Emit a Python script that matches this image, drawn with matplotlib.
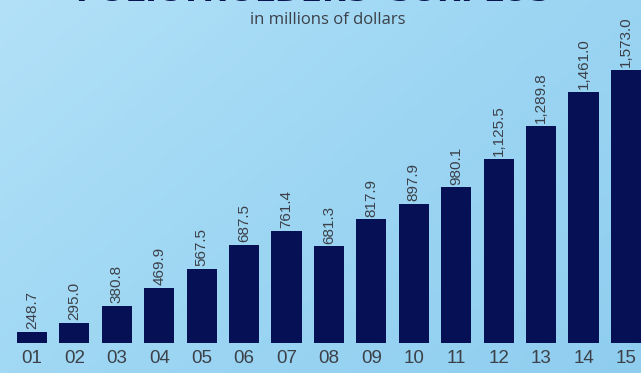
import numpy as np
import matplotlib
matplotlib.use("Agg")
import matplotlib.pyplot as plt
from matplotlib.colors import LinearSegmentedColormap

years = ["01", "02", "03", "04", "05", "06", "07", "08", "09", "10",
         "11", "12", "13", "14", "15"]
surplus = [248.7, 295.0, 380.8, 469.9, 567.5, 687.5, 761.4, 681.3, 817.9,
           897.9, 980.1, 1125.5, 1289.8, 1461.0, 1573.0]

title = "POLICYHOLDERS' SURPLUS"
subtitle = "in millions of dollars"

bar_color = "#061155"
text_color = "#3c4048"
label_font = ["Liberation Sans", "DejaVu Sans"]

fig = plt.figure(figsize=(6.41, 3.73), dpi=100)

# soft blue backdrop, lighter toward the upper left
bg = fig.add_axes([0, 0, 1, 1], zorder=0)
yy, xx = np.mgrid[0:1:200j, 0:1:300j]
grad = 0.6 * xx + 0.4 * yy
cmap = LinearSegmentedColormap.from_list("sky", ["#b2e1f8", "#9dd6f3", "#8fcdef"])
bg.imshow(grad, cmap=cmap, aspect="auto", extent=[0, 1, 0, 1], origin="upper")
bg.axis("off")

ax = fig.add_axes([0, 30 / 373, 1, 343 / 373], zorder=1)
ax.patch.set_alpha(0)
x = np.arange(len(years))
bars = ax.bar(x, surplus, width=0.71, color=bar_color)

ax.set_xlim(-0.754, 14.354)
ax.set_ylim(193, 1927)

for b, v in zip(bars, surplus):
    ax.annotate(f"{v:,.1f}", (b.get_x() + b.get_width() / 2, v),
                xytext=(0, 2), textcoords="offset points",
                rotation=90, ha="center", va="bottom",
                fontsize=11, color=text_color, family=label_font)

ax.set_xticks(x)
ax.set_xticklabels(years, family=label_font, fontsize=13.5, color=text_color)
ax.tick_params(axis="x", length=0, pad=5)
ax.set_yticks([])
for s in ax.spines.values():
    s.set_visible(False)

fig.text(0.488, 1 - 1 / 373, title, ha="center", va="baseline",
         fontsize=22.5, fontweight="heavy", color="#0a1450")
fig.text(0.512, 1 - 20 / 373, subtitle, ha="center", va="center",
         fontsize=12, color=text_color, family=["Open Sans", "DejaVu Sans"])

fig.savefig("out.png", dpi=100)
